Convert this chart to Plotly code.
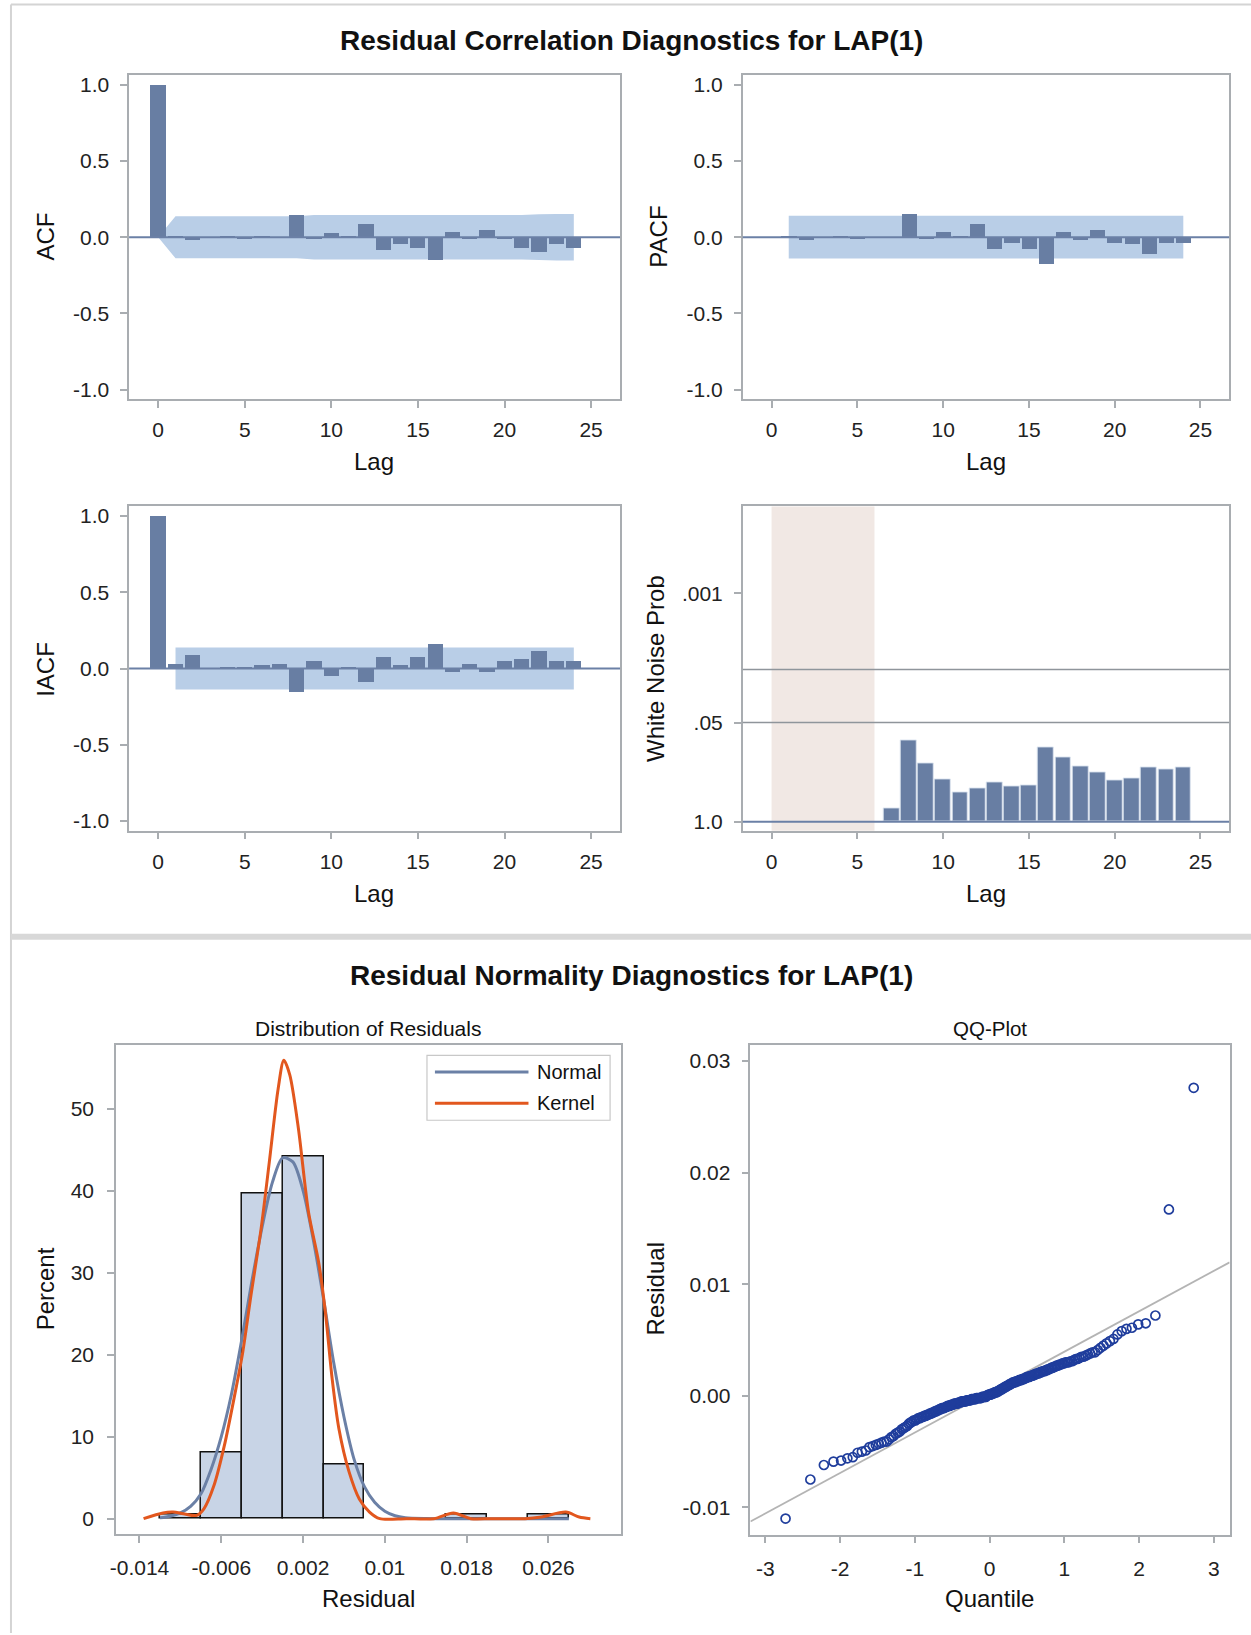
import math
import statistics
import plotly.graph_objects as go

# ---------------- data ----------------
lags = list(range(0, 25))
acf_vals = [1.0, 0.005, -0.022, 0.0, 0.01, -0.01, 0.003, -0.002, 0.148, -0.01, 0.024, 0.01, 0.087,
            -0.087, -0.043, -0.072, -0.148, 0.035, -0.01, 0.048, -0.01, -0.074, -0.1, -0.046, -0.074]
acf_band = [0.0, 0.138, 0.138, 0.138, 0.138, 0.138, 0.138, 0.138, 0.138, 0.146, 0.146, 0.146, 0.146,
            0.146, 0.146, 0.146, 0.146, 0.146, 0.146, 0.146, 0.146, 0.146, 0.150, 0.153, 0.153]

pacf_lags = list(range(1, 25))
pacf_vals = [0.003, -0.022, 0.0, 0.004, -0.01, 0.0, -0.002, 0.152, -0.01, 0.035, 0.01, 0.087,
             -0.076, -0.037, -0.076, -0.174, 0.033, -0.022, 0.048, -0.037, -0.048, -0.109, -0.037, -0.037]
pacf_band = [0.14] * 24

iacf_lags = list(range(1, 25))
iacf_vals = [1.0, 0.03, 0.085, 0.0, 0.01, 0.01, 0.02, 0.03, -0.154, 0.048, -0.052, 0.005, -0.093,
             0.07, 0.02, 0.07, 0.157, -0.028, 0.03, -0.028, 0.048, 0.059, 0.109, 0.048, 0.048]
iacf_band = [0.138] * 24

wn_lags = list(range(7, 25))
wn_prob = [0.67, 0.085, 0.172, 0.275, 0.417, 0.366, 0.305, 0.348, 0.331, 0.107, 0.145, 0.19,
           0.228, 0.284, 0.273, 0.194, 0.204, 0.194]
wn_shade_lags = [0, 6]
wn_ref_probs = [0.05, 0.01]
wn_tick_probs = [1.0, 0.05, 0.001]
wn_tick_text = ["1.0", ".05", ".001"]

corr_tick_vals = [-1, -0.5, 0, 0.5, 1]
corr_tick_text = ["-1.0", "-0.5", "0.0", "0.5", "1.0"]
lag_tick_vals = [0, 5, 10, 15, 20, 25]

# residuals (units of 1e-4), sorted
residuals_e4 = [-110, -75, -62, -59, -58, -56, -55, -51, -50, -49, -46, -45, -44, -43, -42, -41, -41,
                -39, -37, -36, -34, -33, -32, -30, -29, -28, -27, -25, -24, -23, -22, -22, -21, -20, -20,
                -19, -19, -18, -18, -17, -17, -16, -16, -15, -15, -14, -14, -13, -13, -12, -12, -11, -11,
                -11, -10, -10, -9, -9, -9, -8, -8, -8, -7, -7, -7, -7, -6, -6, -6, -5, -5, -5, -5, -5,
                -4, -4, -4, -4, -4, -3, -3, -3, -3, -3, -2, -2, -2, -2, -2, -2, -1, -1, -1, -1, -1,
                0.3, 0.6, 1, 1, 1, 2, 2, 2, 3, 3, 3, 4, 4, 5, 5, 6, 6, 7, 7, 8, 8, 9, 9, 10, 10, 11, 11,
                12, 12, 12, 13, 13, 13, 14, 14, 14, 15, 15, 15, 16, 16, 17, 17, 17, 18, 18, 18, 19, 19,
                20, 20, 20, 21, 21, 22, 22, 22, 23, 23, 24, 24, 25, 25, 26, 26, 27, 27, 28, 28, 29, 29,
                30, 30, 30, 31, 31, 32, 33, 33, 34, 35, 35, 36, 37, 38, 39, 39,
                41, 43, 45, 47, 49, 51, 55, 58, 60, 61, 64, 65, 72, 167, 276]
residuals = [v * 1e-4 for v in residuals_e4]

normal_x_e3 = [-12, -11, -10, -9, -8, -7, -6, -5, -4, -3, -2, -1, 0, 1, 2, 3, 4, 5, 6, 7, 8, 9, 10,
               11, 12, 14, 16, 20, 24, 28]
normal_pct = [0.1, 0.3, 0.7, 1.5, 3.0, 6.0, 10.0, 15.2, 21.8, 29.0, 35.6, 41.0, 44.0, 43.5, 40.0,
              34.0, 26.8, 19.0, 12.4, 7.2, 3.9, 2.0, 0.9, 0.35, 0.12, 0.02, 0, 0, 0, 0]
kernel_x_e3 = [-13.6, -11.7, -10.7, -9.7, -8.4, -7.7, -6.7, -5.7, -4.7, -3.9, -3.1, -2.1, -1.3, -0.44,
               0.12, 0.7, 1.54, 2.53, 3.52, 4.18, 4.84, 5.5, 6.5, 7.5, 8.5, 9.5, 12.1, 14.8, 16.7,
               18.4, 20.4, 23.7, 25.3, 27.7, 29.0, 30.1]
kernel_pct = [0, 0.7, 0.8, 0.6, 0.4, 1.2, 4.1, 8.9, 15, 20.3, 27.2, 35.4, 43.5, 52.4, 55.9, 54.1, 47.6,
              37.4, 31.3, 25.2, 17.1, 11, 5.7, 2.4, 0.8, 0, 0, 0, 0.7, 0, 0, 0, 0.2, 0.8, 0.2, 0]
legend_names = ["Normal", "Kernel"]

hist_ticks = [-0.014, -0.006, 0.002, 0.01, 0.018, 0.026]
hist_tick_text = ["-0.014", "-0.006", "0.002", "0.01", "0.018", "0.026"]
qq_x_ticks = [-3, -2, -1, 0, 1, 2, 3]
qq_x_text = ["-3", "-2", "-1", "0", "1", "2", "3"]
qq_y_ticks = [-0.01, 0, 0.01, 0.02, 0.03]
qq_y_text = ["-0.01", "0.00", "0.01", "0.02", "0.03"]

qq_mu = 0.00033
qq_sigma = 0.003624

# ---------------- styling ----------------
W, H = 1251, 1635
XSHIFT = -2
FONT = "Liberation Sans, Arial, sans-serif"
BAR = "#687ea3"
BAND = "#b9cee7"
FRAME = "#a9adb1"
NORMAL_C = "#6b80a6"
KERNEL_C = "#e2571e"
TICKF = dict(size=21, color="#222222", family=FONT)


def px_x(p):
    return (p + XSHIFT) / W


def px_y(p):
    return 1 - p / H


fig = go.Figure()

fig.add_trace(go.Bar(x=lags, y=acf_vals, width=0.88, marker=dict(color=BAR, line=dict(width=0)),
                     showlegend=False, xaxis="x", yaxis="y"))
fig.add_trace(go.Bar(x=pacf_lags, y=pacf_vals, width=0.88, marker=dict(color=BAR, line=dict(width=0)),
                     showlegend=False, xaxis="x2", yaxis="y2"))
fig.add_trace(go.Bar(x=lags, y=iacf_vals, width=0.88, marker=dict(color=BAR, line=dict(width=0)),
                     showlegend=False, xaxis="x3", yaxis="y3"))
wn_y = [-math.log10(p) for p in wn_prob]
fig.add_trace(go.Bar(x=wn_lags, y=wn_y, width=0.92,
                     marker=dict(color=BAR, line=dict(width=1, color="rgba(220,228,240,0.9)")),
                     showlegend=False, xaxis="x4", yaxis="y4"))

fig.add_trace(go.Histogram(x=residuals, histnorm="percent",
                           xbins=dict(start=-0.012, end=0.028, size=0.004),
                           marker=dict(color="#c8d4e6", line=dict(color="#111111", width=1.5)),
                           showlegend=False, xaxis="x5", yaxis="y5"))
fig.add_trace(go.Scatter(x=[v * 1e-3 for v in normal_x_e3], y=normal_pct, mode="lines",
                         line=dict(color=NORMAL_C, width=3, shape="spline", smoothing=0.8),
                         name=legend_names[0], showlegend=False, xaxis="x5", yaxis="y5"))
fig.add_trace(go.Scatter(x=[v * 1e-3 for v in kernel_x_e3], y=kernel_pct, mode="lines",
                         line=dict(color=KERNEL_C, width=3, shape="spline", smoothing=0.8),
                         name=legend_names[1], showlegend=False, xaxis="x5", yaxis="y5"))

n = len(residuals)
nd = statistics.NormalDist()
qq_x = [nd.inv_cdf((i + 1 - 0.375) / (n + 0.25)) for i in range(n)]
qq_rng = [-3.2, 3.21]
fig.add_trace(go.Scatter(x=qq_rng, y=[qq_mu + qq_sigma * q for q in qq_rng], mode="lines",
                         line=dict(color="#b4b4b4", width=1.8), showlegend=False,
                         xaxis="x6", yaxis="y6"))
fig.add_trace(go.Scatter(x=qq_x, y=sorted(residuals), mode="markers",
                         marker=dict(symbol="circle-open", size=9, color="#1f3d9c",
                                     line=dict(width=1.7, color="#1f3d9c")),
                         showlegend=False, xaxis="x6", yaxis="y6"))


def ax(domain, rng, standoff, **kw):
    d = dict(domain=domain, range=rng, showgrid=False, zeroline=False, showline=True, mirror=True,
             linecolor=FRAME, linewidth=1.5, ticks="outside", ticklen=7, tickwidth=1.5,
             tickcolor=FRAME, tickfont=TICKF, ticklabelstandoff=standoff)
    d.update(kw)
    return d


lag_ticks = dict(tickvals=lag_tick_vals)
corr_ticks = dict(tickvals=corr_tick_vals, ticktext=corr_tick_text)
xl, xr = [px_x(125.7), px_x(619)], [px_x(742.3), px_x(1231)]
yt, yb = [px_y(398.3), px_y(73.3)], [px_y(830.7), px_y(505.7)]
lag_rng = [-1.68, 26.67]
XS, YS = 4, 7

layout_axes = dict(
    xaxis=ax(xl, lag_rng, XS, anchor="y", **lag_ticks),
    yaxis=ax(yt, [-1.063, 1.063], YS, anchor="x", **corr_ticks),
    xaxis2=ax(xr, lag_rng, XS, anchor="y2", **lag_ticks),
    yaxis2=ax(yt, [-1.063, 1.063], YS, anchor="x2", **corr_ticks),
    xaxis3=ax(xl, lag_rng, XS, anchor="y3", **lag_ticks),
    yaxis3=ax(yb, [-1.063, 1.063], YS, anchor="x3", **corr_ticks),
    xaxis4=ax(xr, lag_rng, XS, anchor="y4", **lag_ticks),
    yaxis4=ax(yb, [-0.118, 4.14], YS, anchor="x4",
              tickvals=[-math.log10(p) for p in wn_tick_probs], ticktext=wn_tick_text),
    xaxis5=ax([px_x(112.5), px_x(620)], [-0.0163, 0.0331], XS + 3, anchor="y5",
              tickvals=hist_ticks, ticktext=hist_tick_text),
    yaxis5=ax([px_y(1536), px_y(1046)], [-1.9, 57.7], YS + 2, anchor="x5", tickvals=[0, 10, 20, 30, 40, 50]),
    xaxis6=ax([px_x(750), px_x(1231.5)], [-3.2, 3.21], XS + 3, anchor="y6",
              tickvals=qq_x_ticks, ticktext=qq_x_text),
    yaxis6=ax([px_y(1536.5), px_y(1046)], [-0.01245, 0.0314], YS, anchor="x6",
              tickvals=qq_y_ticks, ticktext=qq_y_text),
)


def band_path(xs, half):
    pts = [(x, h) for x, h in zip(xs, half)] + [(x, -h) for x, h in zip(xs[::-1], half[::-1])]
    return "M " + " L ".join(f"{x},{y}" for x, y in pts) + " Z"


shapes = [
    dict(type="path", xref="x", yref="y", path=band_path(lags, acf_band), fillcolor=BAND,
         line=dict(width=0), layer="below"),
    dict(type="path", xref="x2", yref="y2", path=band_path(pacf_lags, pacf_band), fillcolor=BAND,
         line=dict(width=0), layer="below"),
    dict(type="path", xref="x3", yref="y3", path=band_path(iacf_lags, iacf_band), fillcolor=BAND,
         line=dict(width=0), layer="below"),
]
for xa, ya in [("x", "y"), ("x2", "y2"), ("x3", "y3")]:
    shapes.append(dict(type="line", xref=f"{xa} domain", yref=ya, x0=0, x1=1, y0=0, y1=0,
                       line=dict(color=NORMAL_C, width=2), layer="above"))
shapes.append(dict(type="rect", xref="x4", yref="y4 domain", x0=wn_shade_lags[0], x1=wn_shade_lags[1],
                   y0=0, y1=1, fillcolor="#f1e8e4", line=dict(width=0), layer="below"))
for p in wn_ref_probs:
    yv = -math.log10(p)
    shapes.append(dict(type="line", xref="x4 domain", yref="y4", x0=0, x1=1, y0=yv, y1=yv,
                       line=dict(color="#8f959b", width=1.5), layer="above"))
shapes.append(dict(type="line", xref="x4 domain", yref="y4", x0=0, x1=1, y0=0, y1=0,
                   line=dict(color=NORMAL_C, width=2), layer="above"))
# page borders / separator
shapes.append(dict(type="line", xref="paper", yref="paper", x0=px_x(7), x1=1, y0=px_y(2.5), y1=px_y(2.5),
                   line=dict(color="#d4d4d4", width=2)))
shapes.append(dict(type="line", xref="paper", yref="paper", x0=px_x(7), x1=px_x(7), y0=0, y1=px_y(2.5),
                   line=dict(color="#d4d4d4", width=2)))
shapes.append(dict(type="rect", xref="paper", yref="paper", x0=px_x(7), x1=1, y0=px_y(940), y1=px_y(934),
                   fillcolor="#d8d8d8", line=dict(width=0)))
# legend box (histogram panel)
shapes.append(dict(type="rect", xref="paper", yref="paper", x0=px_x(425), x1=px_x(609),
                   y0=px_y(1121), y1=px_y(1056), fillcolor="white",
                   line=dict(color="#c8c8c8", width=1.2), layer="above"))
for yy, col in [(1072.5, NORMAL_C), (1104, KERNEL_C)]:
    shapes.append(dict(type="line", xref="paper", yref="paper", x0=px_x(433), x1=px_x(527),
                       y0=px_y(yy), y1=px_y(yy), line=dict(color=col, width=3), layer="above"))


def ann(text, x, y, size=24, bold=False, angle=0, xanchor="center"):
    return dict(text=f"<b>{text}</b>" if bold else text, x=px_x(x), y=px_y(y), xref="paper",
                yref="paper", showarrow=False, textangle=angle, xanchor=xanchor, yanchor="middle",
                font=dict(size=size, color="#111111", family=FONT))


annotations = [
    ann("Residual Correlation Diagnostics for LAP(1)", 631, 39, size=28, bold=True),
    ann("Residual Normality Diagnostics for LAP(1)", 631, 976, size=28, bold=True),
    ann("ACF", 41.7, 235.6, angle=-90),
    ann("PACF", 656.8, 235.6, angle=-90),
    ann("IACF", 41.7, 669, angle=-90),
    ann("White Noise Prob", 654.7, 668, angle=-90),
    ann("Lag", 372, 461),
    ann("Lag", 986.7, 461),
    ann("Lag", 372, 893.5),
    ann("Lag", 986.7, 893.5),
    ann("Distribution of Residuals", 366, 1029, size=21),
    ann("QQ-Plot", 990.7, 1029, size=20.5),
    ann("Percent", 41.7, 1290, angle=-90),
    ann("Residual", 654.7, 1290, angle=-90),
    ann("Residual", 366, 1600),
    ann("Quantile", 990.7, 1600),
    ann(legend_names[0], 534, 1072.5, size=20, xanchor="left"),
    ann(legend_names[1], 534, 1104, size=20, xanchor="left"),
]

fig.update_layout(
    width=W, height=H, margin=dict(l=0, r=0, t=0, b=0),
    paper_bgcolor="white", plot_bgcolor="white",
    font=dict(family=FONT, color="#222222"),
    bargap=0, barmode="overlay", showlegend=False,
    shapes=shapes, annotations=annotations,
    **layout_axes,
)

fig.write_html("out.html", config={"displayModeBar": False},
               post_script="document.body.style.margin='0';")
